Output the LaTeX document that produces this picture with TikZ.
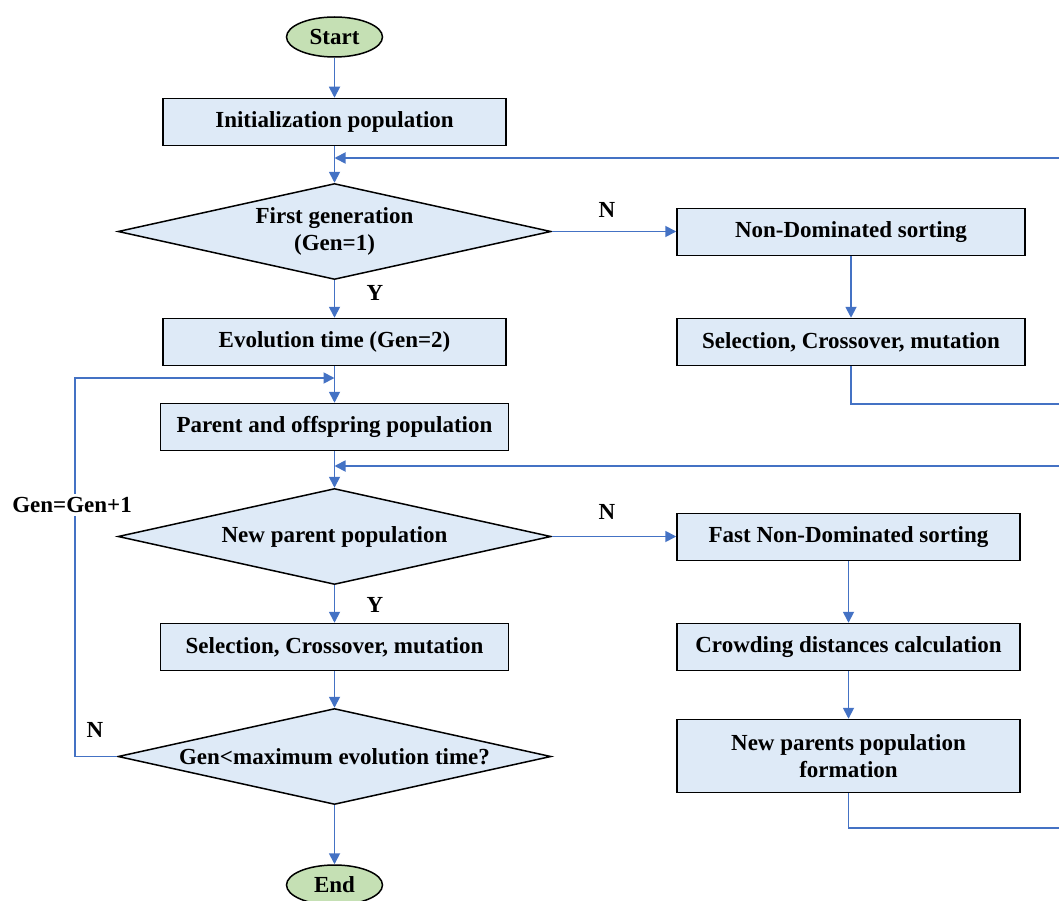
\documentclass[tikz,border=0pt]{standalone}
\usepackage{fontspec}
\setmainfont{Liberation Serif}
\usetikzlibrary{shapes.geometric,arrows.meta}
\definecolor{lineblue}{HTML}{4472C4}
\definecolor{boxfill}{HTML}{DEEAF7}
\definecolor{ovalfill}{HTML}{C5E0B4}
\begin{document}
\begin{tikzpicture}[x=1pt,y=-1pt,
 every node/.style={font=\fontsize{23}{27}\selectfont\bfseries},
 procbox/.style={rectangle,draw=black,line width=1.5pt,fill=boxfill,minimum width=343pt,minimum height=47pt,inner sep=0pt,align=center},
 decbox/.style={diamond,draw=black,line width=1.5pt,fill=boxfill,minimum width=433pt,minimum height=96pt,inner sep=0pt,aspect=4.5,align=center},
 termbox/.style={ellipse,draw=black,line width=1.5pt,fill=ovalfill,minimum width=96pt,minimum height=40pt,inner sep=0pt},
 flow/.style={draw=lineblue,line width=1.8pt,-{Triangle[length=11pt,width=11pt]}},
 lbl/.style={inner sep=1pt}]
\useasboundingbox (0,0) rectangle (1059,901);
% nodes
\node[termbox] (start) at (334.5,37) {Start};
\node[procbox] (init) at (334.5,122) {Initialization population};
\node[decbox] (d1) at (334.5,231.5) {First generation\\(Gen=1)};
\node[procbox,minimum width=348pt] (nds) at (851,232) {Non-Dominated sorting};
\node[procbox,minimum width=348pt] (sel1) at (851,342) {Selection, Crossover, mutation};
\node[procbox] (evo) at (334.5,342) {Evolution time (Gen=2)};
\node[procbox,minimum width=348pt] (par) at (334.5,427) {Parent and offspring population};
\node[decbox] (d2) at (334.5,536.5) {New parent population};
\node[procbox] (fast) at (848.5,537) {Fast Non-Dominated sorting};
\node[procbox] (crowd) at (848.5,647) {Crowding distances calculation};
\node[procbox,minimum height=73pt] (newp) at (848.5,756) {New parents population\\formation};
\node[procbox,minimum width=348pt] (sel2) at (334.5,647) {Selection, Crossover, mutation};
\node[decbox] (d3) at (334.5,756.5) {Gen<maximum evolution time?};
\node[termbox] (end) at (334.5,885) {End};
% junction coordinates
\coordinate (j1) at (334.5,158);
\coordinate (j2) at (334.5,378);
\coordinate (j3) at (334.5,466);
\coordinate (lft) at (75,378);
\coordinate (rt1) at (1065,404);
\coordinate (rt2) at (1065,158);
\coordinate (rt3) at (1065,828);
\coordinate (rt4) at (1065,466);
% connectors
\draw[flow] (start) -- (init);
\draw[flow] (init) -- (d1);
\draw[flow] (d1.east) -- (d1.east -| nds.west);
\draw[flow] (nds) -- (sel1);
\draw[flow] (sel1.south) |- (rt1) -- (rt2) -- (j1);
\draw[flow] (d1) -- (evo);
\draw[flow] (evo) -- (par);
\draw[flow] (par) -- (d2);
\draw[flow] (d2.east) -- (d2.east -| fast.west);
\draw[flow] (fast) -- (crowd);
\draw[flow] (crowd) -- (newp);
\draw[flow] (newp.south) |- (rt3) -- (rt4) -- (j3);
\draw[flow] (d2) -- (sel2);
\draw[flow] (sel2) -- (d3);
\draw[flow] (d3.west) -- (d3.west -| lft) -- (lft) -- (j2);
\draw[flow] (d3) -- (end);
% labels
\node[lbl] (n1) at (607,210) {N};
\node[lbl] (y1) at (375,293) {Y};
\node[lbl] (n2) at (607,512) {N};
\node[lbl] (y2) at (375,605) {Y};
\node[lbl] (n3) at (95,730) {N};
\node[lbl,fill=white,inner sep=3pt] (gen) at (72,505) {Gen=Gen+1};
\end{tikzpicture}
\end{document}
